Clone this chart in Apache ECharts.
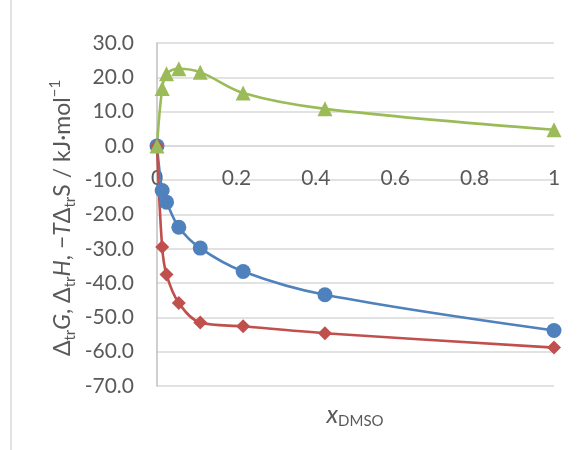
<!DOCTYPE html>
<html>
<head>
<meta charset="utf-8">
<script src="https://cdn.jsdelivr.net/npm/echarts@6/dist/echarts.min.js"></script>
<style>
  html, body { margin: 0; padding: 0; background: #fff; }
  #chart { width: 577px; height: 450px; }
</style>
</head>
<body>
<div id="chart"></div>
<script>
// Mole fraction of DMSO at each measured composition
const xDMSO = [0, 0.013, 0.024, 0.055, 0.109, 0.217, 0.423, 1];
// Transfer functions, kJ/mol
const dG   = [0, -13.0, -16.4, -23.7, -29.8, -36.6, -43.4, -53.8];
const dH   = [0, -29.5, -37.5, -45.8, -51.5, -52.6, -54.6, -58.8];
const mTdS = [0, 16.7, 21.0, 22.5, 21.5, 15.4, 10.8, 4.7];

const xTicks = { min: 0, max: 1, step: 0.2 };
const yTicks = { min: -70, max: 30, step: 10 };

const FONT = 'Lato';
const TEXT = '#595959';
const GRID = { left: 157, right: 23, top: 43, bottom: 64 };
const HEIGHT = 450;

function pairs(xs, ys) { return xs.map((x, i) => [x, ys[i]]); }

function seriesOf(name, ys, color, symbol, size) {
  return {
    name, type: 'line', data: pairs(xDMSO, ys),
    smooth: 0.35, clip: false,
    symbol, symbolSize: size,
    lineStyle: { color, width: 2.6 },
    itemStyle: { color },
    emphasis: { disabled: true }
  };
}

const chart = echarts.init(document.getElementById('chart'), null, { renderer: 'canvas' });
chart.setOption({
  animation: false,
  backgroundColor: '#fff',
  grid: Object.assign({ containLabel: false }, GRID),
  xAxis: {
    type: 'value', min: xTicks.min, max: xTicks.max, interval: xTicks.step,
    position: 'bottom', offset: 0,
    axisLine: { onZero: false, lineStyle: { color: '#D9D9D9', width: 1.5 } },
    axisTick: { show: false },
    splitLine: { show: false },
    axisLabel: { color: TEXT, fontFamily: FONT, fontSize: 21, margin: 22,
      formatter: v => String(Math.round(v * 10) / 10) }
  },
  yAxis: {
    type: 'value', min: yTicks.min, max: yTicks.max, interval: yTicks.step,
    axisLine: { show: true, onZero: false, lineStyle: { color: '#BFBFBF', width: 1.5 } },
    axisTick: { show: false },
    splitLine: { lineStyle: { color: '#D9D9D9', width: 1.5 } },
    axisLabel: { color: TEXT, fontFamily: FONT, fontSize: 21, margin: 23,
      formatter: v => v.toFixed(1) }
  },
  graphic: [
    { type: 'line', shape: { x1: 11, y1: 0, x2: 11, y2: 450 },
      style: { stroke: '#D9D9D9', lineWidth: 1.5 } },
    { type: 'text', x: 355, y: 415,
      style: {
        text: '{i|x}{s|DMSO}', textAlign: 'center', textVerticalAlign: 'middle',
        rich: {
          i: { fontFamily: FONT, fontStyle: 'italic', fontSize: 25, fill: TEXT, lineHeight: 28 },
          s: { fontFamily: FONT, fontSize: 15, fill: TEXT, lineHeight: 16, verticalAlign: 'bottom' }
        }
      } },
    { type: 'text', x: 63, y: 218, rotation: Math.PI / 2,
      style: {
        text: 'Δ{s|tr}{i|G}, Δ{s|tr}{i|H}, −{i|T}Δ{s|tr}S / kJ·mol{p|−1}',
        textAlign: 'center', textVerticalAlign: 'middle',
        fontFamily: FONT, fontSize: 23, fill: TEXT,
        rich: {
          i: { fontFamily: FONT, fontStyle: 'italic', fontSize: 23, fill: TEXT, lineHeight: 30 },
          s: { fontFamily: FONT, fontSize: 15, fill: TEXT, lineHeight: 15, verticalAlign: 'bottom' },
          p: { fontFamily: FONT, fontSize: 15, fill: TEXT, lineHeight: 15, verticalAlign: 'top' }
        }
      } }
  ],
  series: [
    seriesOf('ΔtrG', dG, '#4F81BD', 'circle', 15),
    seriesOf('ΔtrH', dH, '#C0504D', 'diamond', 14),
    seriesOf('−TΔtrS', mTdS, '#9BBB59', 'triangle', 15)
  ]
});

// Move the x axis up so it crosses the y axis at zero
const zeroY = chart.convertToPixel({ yAxisIndex: 0 }, 0);
const bottomY = HEIGHT - GRID.bottom;
chart.setOption({ xAxis: { offset: zeroY - bottomY } });
</script>
</body>
</html>
